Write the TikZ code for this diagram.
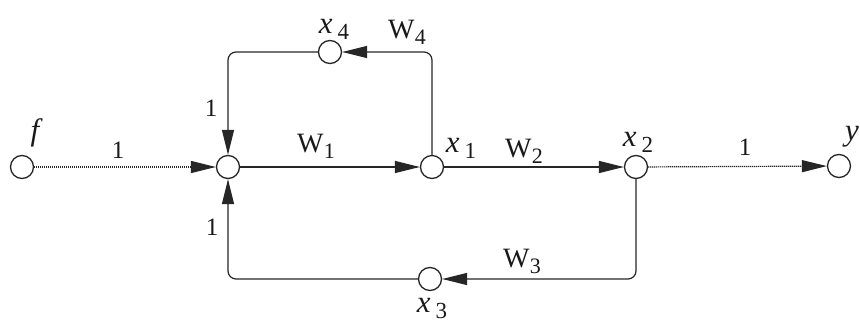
\documentclass[tikz,border=0pt]{standalone}
\usepackage{fontspec}
\setmainfont{Liberation Serif}
\usetikzlibrary{arrows.meta}
\newcommand{\mainsz}{\fontsize{25}{28}\selectfont}
\newcommand{\xlab}[1]{{\fontsize{31}{33}\selectfont\itshape x}\hspace{5pt}\raisebox{-6pt}{\fontsize{23}{25}\selectfont #1}}
\newcommand{\wlab}[1]{{\fontsize{28}{30}\selectfont W}\kern0.5pt\raisebox{-6pt}{\fontsize{22}{24}\selectfont #1}}
\begin{document}
\begin{tikzpicture}[x=1pt,y=-1pt,
  vtx/.style={circle,draw=black!85,line width=1.3pt,minimum size=23pt,inner sep=0pt},
  edge/.style={line width=1.2pt,draw=black!85,-{Triangle[length=25pt,width=12pt]}},
  dotedge/.style={edge,dash pattern=on 1.2pt off 0.8pt},
  lab/.style={inner sep=0pt,font=\mainsz,text=black!90}]
\useasboundingbox (0,0) rectangle (860,324);
\node[vtx] (f) at (22,167) {};
\node[vtx] (s) at (228,167) {};
\node[vtx] (x1) at (432,167) {};
\node[vtx] (x2) at (636,167) {};
\node[vtx] (y) at (839,166) {};
\node[vtx] (x4) at (330,52) {};
\node[vtx] (x3) at (430,279) {};
\draw[dotedge] (f) -- (s);
\draw[edge] (s) -- (x1);
\draw[edge] (x1) -- (x2);
\draw[dotedge] (x2) -- (y);
\draw[edge,rounded corners=8pt] (x1) |- (x4);
\draw[edge,rounded corners=8pt] (x4) -| (s);
\draw[edge,rounded corners=8pt] (x2) |- (x3);
\draw[edge,rounded corners=8pt] (x3) -| (s);
\node[lab] (lf) at (35,133) {\fontsize{31}{33}\selectfont\itshape f};
\node[lab] (l1a) at (118,150) {1};
\node[lab] (l1b) at (211,108) {1};
\node[lab] (l1c) at (212,227) {1};
\node[lab] (lw1) at (316,146) {\wlab{1}};
\node[lab] (lx1) at (461,148) {\xlab{1}};
\node[lab] (lw2) at (524,151) {\wlab{2}};
\node[lab] (lx2) at (638,142) {\xlab{2}};
\node[lab] (l1d) at (745,147) {1};
\node[lab] (ly) at (852,137) {\fontsize{31}{33}\selectfont\itshape y};
\node[lab] (lx4) at (334,29) {\xlab{4}};
\node[lab] (lw4) at (407,32) {\wlab{4}};
\node[lab] (lw3) at (522,261) {\wlab{3}};
\node[lab] (lx3) at (432,308) {\xlab{3}};
\end{tikzpicture}
\end{document}
